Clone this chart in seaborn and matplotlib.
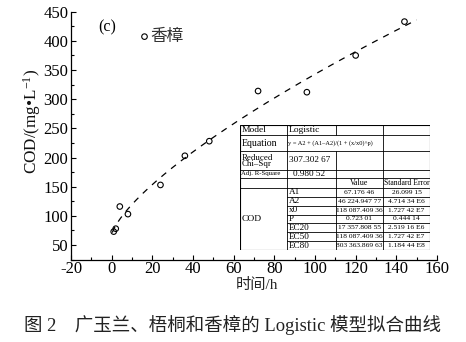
import matplotlib
matplotlib.use("Agg")
import numpy as np
import pandas as pd
import seaborn as sns
import matplotlib.pyplot as plt
from matplotlib.ticker import MultipleLocator

# ---- data ----
time_h = [1, 2, 4, 8, 24, 36, 48, 72, 96, 120, 144]
cod = [73, 78, 116, 103, 153, 203, 228, 314, 312, 375, 433]
series_label = "香樟"
panel_label = "(c)"

# Logistic fit parameters (from the table)
A1 = 67.17646
A2 = 46224.94777
x0 = 118087.40936
p = 0.72301

table_rows = [
    ("A1", "67.176 46", "26.099 15"),
    ("A2", "46 224.947 77", "4.714 34 E6"),
    ("x0", "118 087.409 36", "1.727 42 E7"),
    ("P", "0.723 01", "0.444 14"),
    ("EC20", "17 357.808 55", "2.519 16 E6"),
    ("EC50", "118 087.409 36", "1.727 42 E7"),
    ("EC80", "803 363.869 63", "1.184 44 E8"),
]
xticks = [-20, 0, 20, 40, 60, 80, 100, 120, 140, 160]
yticks = [50, 100, 150, 200, 250, 300, 350, 400, 450]

sns.set_theme(style="ticks")
plt.rcParams['font.family'] = ['Liberation Serif', 'Noto Sans CJK SC']
plt.rcParams['mathtext.fontset'] = 'custom'
plt.rcParams['mathtext.rm'] = 'Liberation Serif'
plt.rcParams['mathtext.it'] = 'Liberation Serif:italic'
plt.rcParams['axes.unicode_minus'] = False

W, H = 466, 342
fig = plt.figure(figsize=(W / 100, H / 100), dpi=100)
fig.patch.set_facecolor("white")

def fx(x):
    return x / W

def fy(y):
    return 1 - y / H

ax_l, ax_r, ax_t, ax_b = 71, 437, 11.7, 259.6
ax = fig.add_axes([fx(ax_l), fy(ax_b), fx(ax_r) - fx(ax_l), (ax_b - ax_t) / H])
ax.set_facecolor("white")

df = pd.DataFrame({"t": time_h, "cod": cod})
sns.scatterplot(data=df, x="t", y="cod", ax=ax, marker="o", s=16,
                facecolors="none", edgecolor="black", linewidth=0.8,
                label=series_label, zorder=3)

tfit = np.linspace(0.3, 150, 300)
yfit = A2 + (A1 - A2) / (1 + (tfit / x0) ** p)
sns.lineplot(x=tfit, y=yfit, ax=ax, color="black", linewidth=0.9,
             linestyle=(0, (5, 5)), zorder=2)

ax.set_xlim(-20, 160)
ax.set_ylim(25, 450)
ax.set_xticks(xticks)
ax.set_yticks(yticks)
ax.xaxis.set_minor_locator(MultipleLocator(10))
ax.yaxis.set_minor_locator(MultipleLocator(25))
ax.tick_params(axis="both", which="major", direction="in", length=3.5, width=0.8,
               labelsize=12, color="black", labelcolor="black", pad=2)
ax.tick_params(axis="x", which="major", pad=1)
ax.tick_params(axis="both", which="minor", direction="in", length=2.5, width=0.8, color="black")
for s in ["top", "right"]:
    ax.spines[s].set_visible(False)
for s in ["left", "bottom"]:
    ax.spines[s].set_color("black")
    ax.spines[s].set_linewidth(0.9)

ax.set_xlabel("时间/h", fontsize=11, color="#222222")
ax.xaxis.set_label_coords((257 - ax_l) / (ax_r - ax_l), -(284.5 - ax_b) / (ax_b - ax_t))
ax.xaxis.label.set_va("center")
ax.set_ylabel("COD/(mg\u2022L$^{-1}$)", fontsize=12.3, color="#111111")
ax.yaxis.set_label_coords((32 - ax_l) / (ax_r - ax_l), (ax_b - 121) / (ax_b - ax_t))
ax.yaxis.label.set_va("center")

leg = ax.legend(loc="center left", bbox_to_anchor=((139.5 - ax_l) / (ax_r - ax_l), (ax_b - 37) / (ax_b - ax_t)),
                frameon=False, fontsize=12, handletextpad=0.05, borderaxespad=0,
                handlelength=0.6, borderpad=0)
for t in leg.get_texts():
    t.set_color("#333333")

ax.text((98 - ax_l) / (ax_r - ax_l), (ax_b - 27) / (ax_b - ax_t), panel_label,
        transform=ax.transAxes, fontsize=11.5, ha="left", va="center", color="black")

# ---- table ----
tx0, tx1, ty0, ty1 = 240, 430, 124.7, 250.3
tab = fig.add_axes([fx(tx0), fy(ty1), fx(tx1) - fx(tx0), (ty1 - ty0) / H])
tab.set_xlim(tx0, tx1)
tab.set_ylim(ty1, ty0)
tab.axis("off")
tab.add_patch(plt.Rectangle((tx0, ty0), tx1 - tx0, ty1 - ty0, facecolor="white",
                            edgecolor="black", linewidth=0.8, zorder=0))
cols = [240, 287, 336, 383, 430]
rows_top = [124.7, 134.7, 151.3, 169.7, 178.0, 187.7]
step = (ty1 - 187.7) / 7
cod_rows = [187.7 + i * step for i in range(8)]
lw = 0.6
for y in rows_top[1:]:
    tab.plot([tx0, tx1], [y, y], color="black", lw=lw)
for y in cod_rows[1:-1]:
    tab.plot([cols[1], tx1], [y, y], color="black", lw=lw)
tab.plot([cols[1], cols[1]], [ty0, ty1], color="black", lw=lw)
tab.plot([cols[3], cols[3]], [ty0, ty1], color="black", lw=lw)
tab.plot([cols[2], cols[2]], [ty0, rows_top[1]], color="black", lw=lw)
tab.plot([cols[2], cols[2]], [rows_top[2], ty1], color="black", lw=lw)

def mid(a, b):
    return (a + b) / 2

kw = dict(color="black", va="center")
tab.text(cols[0] + 2, mid(rows_top[0], rows_top[1]), "Model", fontsize=6.8, **kw)
tab.text(cols[1] + 2, mid(rows_top[0], rows_top[1]), "Logistic", fontsize=6.8, **kw)
tab.text(cols[0] + 2, mid(rows_top[1], rows_top[2]), "Equation", fontsize=7, **kw)
tab.text(cols[1] + 1, mid(rows_top[1], rows_top[2]),
         "y = A2 + (A1\u2013A2)/(1 + (x/x0)^p)", fontsize=4.6, **kw)
tab.text(cols[0] + 2, mid(rows_top[2], rows_top[3]) + 0.3, "Reduced\nChi\u2013Sqr", fontsize=6.4,
         linespacing=0.75, **kw)
tab.text(cols[1] + 2, mid(rows_top[2], rows_top[3]), "307.302 67", fontsize=6.6, **kw)
tab.text(cols[0] + 1, mid(rows_top[3], rows_top[4]), "Adj. R-Square", fontsize=4.9, **kw)
tab.text(cols[1] + 6, mid(rows_top[3], rows_top[4]), "0.980 52", fontsize=6.6, **kw)
tab.text(mid(cols[2], cols[3]), mid(rows_top[4], rows_top[5]), "Value", fontsize=5.8, ha="center", **kw)
tab.text(mid(cols[3], cols[4]), mid(rows_top[4], rows_top[5]), "Standard Error", fontsize=5.5, ha="center", **kw)
tab.text(cols[0] + 2, mid(cod_rows[0], cod_rows[-1]), "COD", fontsize=6.8, **kw)
for i, (name, val, se) in enumerate(table_rows):
    yc = mid(cod_rows[i], cod_rows[i + 1])
    tab.text(cols[1] + 2, yc, name, fontsize=6.6, **kw)
    tab.text(mid(cols[2], cols[3]), yc, val, fontsize=5.4, ha="center", **kw)
    tab.text(mid(cols[3], cols[4]), yc, se, fontsize=5.4, ha="center", **kw)

# ---- caption ----
fig.text(fx(233), fy(325), "图 2    广玉兰、梧桐和香樟的 Logistic 模型拟合曲线",
         fontsize=13.3, ha="center", va="center", color="#222222")

fig.savefig("out.png", dpi=100, facecolor="white")
